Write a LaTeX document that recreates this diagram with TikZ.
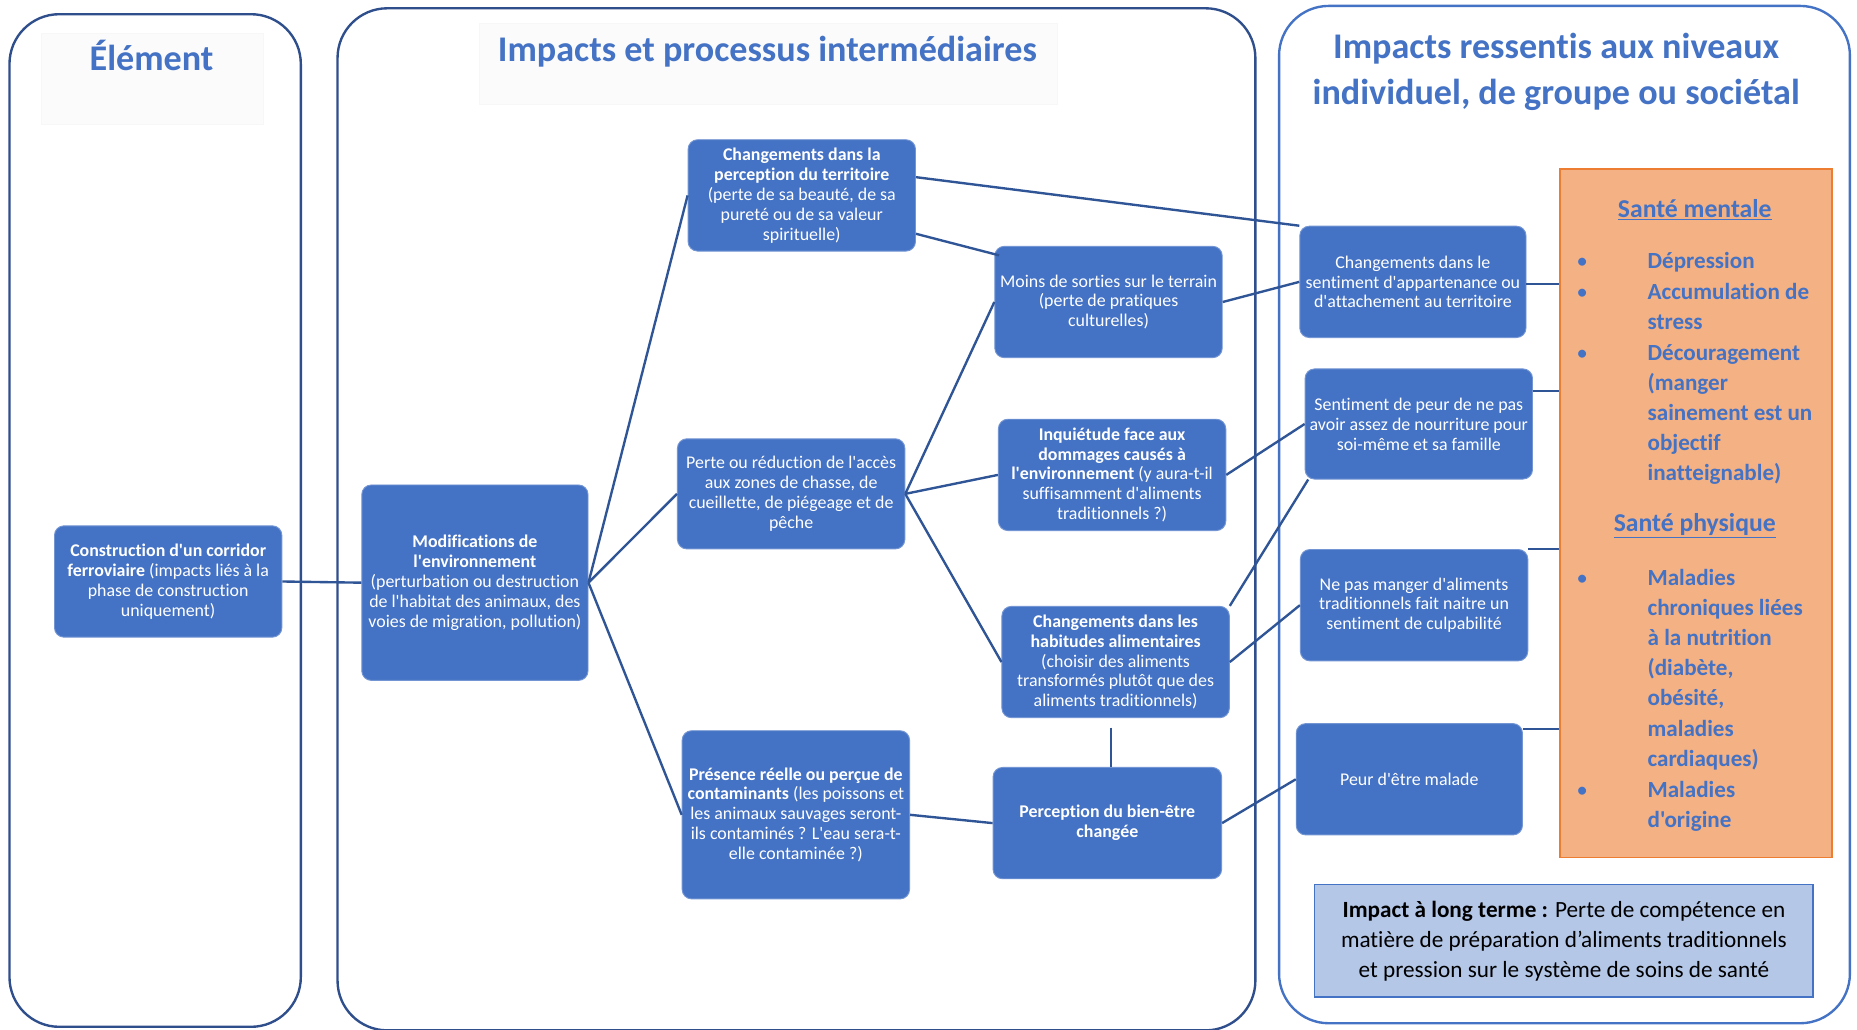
\documentclass[tikz,border=0pt]{standalone}
\usepackage{fontspec}
\setmainfont{Carlito}[Ligatures={TeXOff,NoCommon}]
\usetikzlibrary{calc}
\definecolor{bfill}{HTML}{4472C4}
\definecolor{dline}{HTML}{2F5597}
\definecolor{pborder}{HTML}{2F4E8C}
\definecolor{ofill}{HTML}{F4B183}
\definecolor{oborder}{HTML}{ED7D31}
\definecolor{lfill}{HTML}{B4C7E7}
\begin{document}
\begin{tikzpicture}[x=1pt,y=-1pt,
  panel/.style={draw=pborder, line width=2pt, rounded corners=42pt},
  titlebg/.style={fill=black!1.5, draw=black!3, line width=0.5pt},
  ttl/.style={text=bfill, font=\fontsize{30.5}{39}\selectfont\bfseries, align=center, inner sep=0pt},
  box/.style={draw=bfill!75!white, line width=0.8pt, fill=bfill, rounded corners=8pt, text=white, align=center, font=\fontsize{15.1}{16.8}\selectfont, inner sep=0pt},
  bx/.style 2 args={box, minimum width=#1pt, minimum height=#2pt},
  conn/.style={draw=dline, line width=2pt},
  item/.style={text=bfill, font=\fontsize{19.5}{25.5}\selectfont\bfseries, inner sep=0pt, anchor=base west},
  bul/.style={text=bfill, font=\fontsize{19}{25.5}\selectfont, inner sep=0pt, anchor=base},
  head/.style={text=bfill, font=\fontsize{21.7}{24}\selectfont\bfseries, inner sep=0pt}
]
\useasboundingbox (0,0) rectangle (1568,869);
\fill[white] (0,0) rectangle (1568,869);

% panels
\draw[panel] (8,12) rectangle (254,867);
\draw[panel] (285,7) rectangle (1060,870);
\draw[panel, draw=bfill] (1080,5) rectangle (1562,864);

% title backgrounds
\draw[titlebg] (35,28) rectangle (222,105);
\draw[titlebg] (405,20) rectangle (893,88);

% titles
\node[ttl] (t1) at (128,47) {Élément};
\node[ttl] (t2) at (648,44) {Impacts et processus intermédiaires};
\node[ttl] (t3) at (1314,61) {Impacts ressentis aux niveaux\\individuel, de groupe ou sociétal};

% blue boxes
\node[bx={192}{94}] (cor) at (142,491) {\textbf{Construction d'un corridor}\\\textbf{ferroviaire} (impacts liés à la\\phase de construction\\uniquement)};
\node[bx={191}{165}] (mod) at (401,492) {\textbf{Modifications de}\\\textbf{l'environnement}\\(perturbation ou destruction\\de l'habitat des animaux, des\\voies de migration, pollution)};
\node[bx={192}{94}] (pt) at (677,165) {\textbf{Changements dans la}\\\textbf{perception du territoire}\\(perte de sa beauté, de sa\\pureté ou de sa valeur\\spirituelle)};
\node[bx={192}{93}] (pa) at (668,417) {Perte ou réduction de l'accès\\aux zones de chasse, de\\cueillette, de piégeage et de\\pêche};
\node[bx={192}{142}] (ct) at (672,688) {\textbf{Présence réelle ou perçue de}\\\textbf{contaminants} (les poissons et\\les animaux sauvages seront-\\ils contaminés ? L'eau sera-t-\\elle contaminée ?)};
\node[bx={192}{94}] (ms) at (936,255) {Moins de sorties sur le terrain\\(perte de pratiques\\culturelles)};
\node[bx={192}{94}] (inq) at (939,401) {\textbf{Inquiétude face aux}\\\textbf{dommages causés à}\\\textbf{l'environnement} (y aura-t-il\\suffisamment d'aliments\\traditionnels ?)};
\node[bx={192}{94}] (hab) at (942,559) {\textbf{Changements dans les}\\\textbf{habitudes alimentaires}\\(choisir des aliments\\transformés plutôt que des\\aliments traditionnels)};
\node[bx={193}{94}] (be) at (935,695) {\textbf{Perception du bien-être}\\\textbf{changée}};
\node[bx={191}{94}] (sa) at (1193,238) {Changements dans le\\sentiment d'appartenance ou\\d'attachement au territoire};
\node[bx={192}{93}] (pn) at (1198,358) {Sentiment de peur de ne pas\\avoir assez de nourriture pour\\soi-même et sa famille};
\node[bx={192}{94}] (cul) at (1194,511) {Ne pas manger d'aliments\\traditionnels fait naitre un\\sentiment de culpabilité};
\node[bx={191}{94}] (pm) at (1190,658) {Peur d'être malade};

% orange box
\node[draw=oborder, line width=1.5pt, fill=ofill, minimum width=230pt, minimum height=581pt, inner sep=0pt] (or) at (1432,433.5) {};
\node[head] (hm) at (1431,177) {\underline{Santé mentale}};
\node[bul] (b1) at (1336,227) {•};
\node[item] (m1) at (1391,227) {Dépression};
\node[bul] (b2) at (1336,253) {•};
\node[item] (m2) at (1391,253) {\parbox[t]{160pt}{\raggedright Accumulation de\\stress}};
\node[bul] (b3) at (1336,304) {•};
\node[item] (m3) at (1391,304) {\parbox[t]{160pt}{\raggedright Découragement\\(manger\\sainement est un\\objectif\\inatteignable)}};
\node[head] (hp) at (1431,444) {\underline{Santé physique}};
\node[bul] (b4) at (1336,494) {•};
\node[item] (p1) at (1391,494) {\parbox[t]{160pt}{\raggedright Maladies\\chroniques liées\\à la nutrition\\(diabète,\\obésité,\\maladies\\cardiaques)}};
\node[bul] (b5) at (1336,673) {•};
\node[item] (p2) at (1391,673) {\parbox[t]{160pt}{\raggedright Maladies\\d'origine}};

% long-term box
\node[draw=bfill, line width=1.2pt, fill=lfill, minimum width=421pt, minimum height=95pt, inner sep=0pt, align=center, font=\fontsize{19.6}{25.5}\selectfont] (lt) at (1320.5,794.5) {\textbf{Impact à long terme :} Perte de compétence en\\matière de préparation d’aliments traditionnels\\et pression sur le système de soins de santé};

% connectors
\draw[conn] (cor.east) -- (mod.west);
\draw[conn] (mod.east) -- (pt.west);
\draw[conn] (mod.east) -- (pa.west);
\draw[conn] (mod.east) -- (ct.west);
\draw[conn] ([yshift=-32pt]pt.north east) -- (sa.north west);
\draw[conn] ([yshift=15pt]pt.south east) -- ([xshift=4pt,yshift=-8pt]ms.north west);
\draw[conn] (pa.east) -- (ms.west);
\draw[conn] (pa.east) -- (inq.west);
\draw[conn] (pa.east) -- (hab.west);
\draw[conn] (ms.east) -- (sa.west);
\draw[conn] (inq.east) -- (pn.west);
\draw[conn] (hab.north east) -- ([xshift=3pt]pn.south west);
\draw[conn] (hab.east) -- (cul.west);
\draw[conn] ([xshift=-4pt,yshift=-8pt]hab.south) -- ([xshift=3pt]be.north);
\draw[conn] (ct.east) -- (be.west);
\draw[conn] (be.east) -- (pm.west);
\draw[conn] ([yshift=-2pt]sa.east) -- ([yshift=-2pt]sa.east -| or.west);
\draw[conn] ([yshift=-19pt]pn.north east) -- ([yshift=-19pt]pn.north east -| or.west);
\draw[conn] (cul.north east) -- (cul.north east -| or.west);
\draw[conn] ([yshift=-5pt]pm.north east) -- ([yshift=-5pt]pm.north east -| or.west);
\end{tikzpicture}
\end{document}
